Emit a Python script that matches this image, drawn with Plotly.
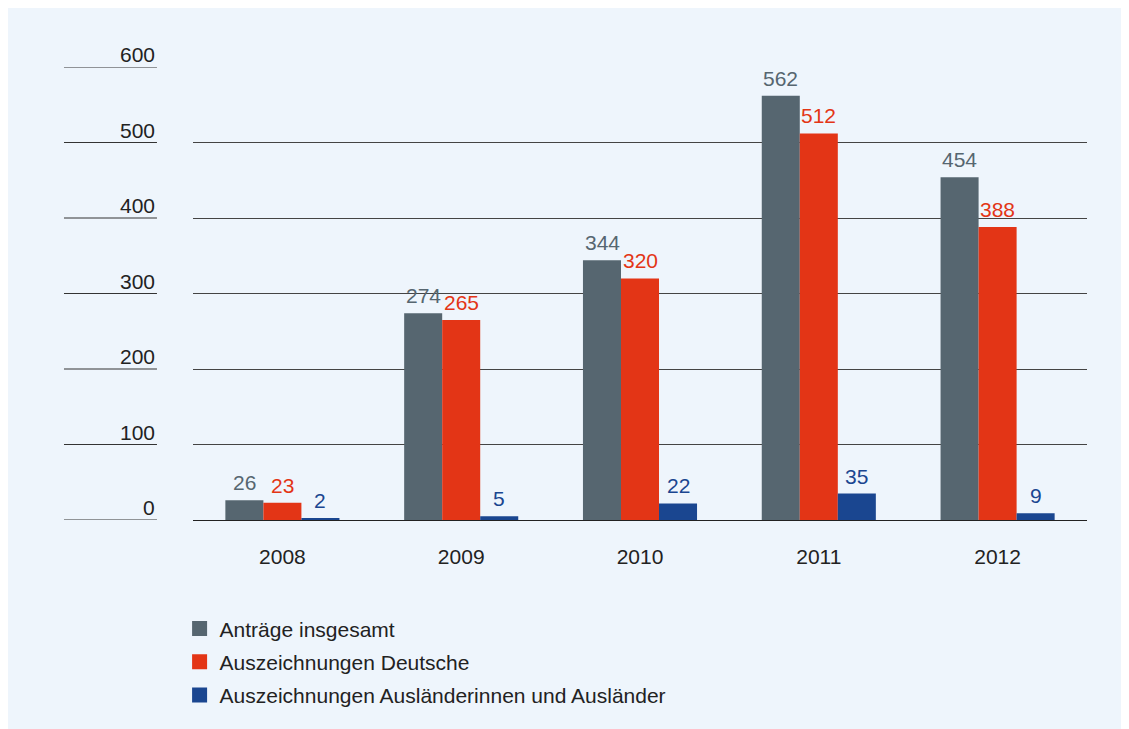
import plotly.graph_objects as go

years = ["2008", "2009", "2010", "2011", "2012"]
antraege = [26, 274, 344, 562, 454]
deutsche = [23, 265, 320, 512, 388]
auslaender = [2, 5, 22, 35, 9]
y_ticks = [0, 100, 200, 300, 400, 500, 600]

series = [
    ("Anträge insgesamt", antraege, "#566670"),
    ("Auszeichnungen Deutsche", deutsche, "#E33516"),
    ("Auszeichnungen Ausländerinnen und Ausländer", auslaender, "#1A4690"),
]

FONT = "Liberation Sans, Arial, sans-serif"
BAR_PX = 38  # approx width of one bar in pixels, used to shift the value labels

fig = go.Figure()

for i, (name, vals, color) in enumerate(series):
    fig.add_trace(go.Bar(
        x=years, y=vals, name=name,
        marker=dict(color=color, line=dict(width=0)),
        showlegend=False,
    ))
    # legend-only entry, so the square can be a bit bigger
    fig.add_trace(go.Scatter(
        x=[None], y=[None], mode="markers", name=name, legendgroup=f"g{i}",
        marker=dict(symbol="square", size=15, color=color),
    ))
    # value labels above the bars (category axis -> annotation x is the index)
    for j, v in enumerate(vals):
        fig.add_annotation(x=j, y=v, xref="x", yref="y", text=str(v),
                           showarrow=False, xanchor="center", yanchor="bottom",
                           xshift=(i - 1) * BAR_PX, yshift=4,
                           font=dict(size=21, color=color, family=FONT))

# short lines and labels on the left for the y scale
for v in y_ticks:
    fig.add_shape(type="line", xref="paper", yref="y",
                  x0=-0.1443, x1=-0.0403, y0=v, y1=v,
                  line=dict(color="#333333", width=1))
    fig.add_annotation(x=-0.0403, y=v, xref="paper", yref="y",
                       text=str(v), showarrow=False,
                       xanchor="right", yanchor="bottom", yshift=-1,
                       font=dict(size=21, color="#222222", family=FONT))

fig.update_layout(
    width=1129, height=721,
    margin=dict(l=185, r=50, t=59, b=209),
    paper_bgcolor="#EEF5FC",
    plot_bgcolor="rgba(0,0,0,0)",
    barmode="group", bargap=0.362, bargroupgap=0,
    font=dict(family=FONT, size=21, color="#222222"),
    legend=dict(x=-0.015, y=-0.195, xanchor="left", yanchor="top",
                bgcolor="rgba(0,0,0,0)", font=dict(size=21, color="#222222"),
                itemclick=False, traceorder="grouped", tracegroupgap=3),
    xaxis=dict(type="category", range=[-0.5, 4.5], showgrid=False,
               showline=False, ticks="", ticklabelstandoff=22,
               tickfont=dict(size=21, color="#222222")),
    yaxis=dict(range=[0, 600], tickvals=y_ticks, showticklabels=False,
               showgrid=True, gridcolor="#444444", gridwidth=1,
               zeroline=True, zerolinecolor="#222222", zerolinewidth=1,
               showline=False),
)

fig.write_html("out.html")
